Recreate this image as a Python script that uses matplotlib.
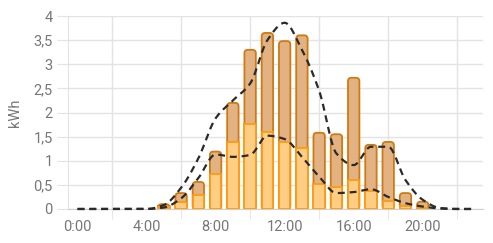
import matplotlib.pyplot as plt
import numpy as np
from matplotlib.patches import FancyBboxPatch

plt.rcParams['font.family'] = ['Roboto', 'DejaVu Sans']
plt.rcParams['lines.scale_dashes'] = False

# hourly values (kWh)
hours = list(range(24))
hour_labels = ['0:00', '4:00', '8:00', '12:00', '16:00', '20:00']
label_hours = [0, 4, 8, 12, 16, 20]

bar_hours = [5, 6, 7, 8, 9, 10, 11, 12, 13, 14, 15, 16, 17, 18, 19, 20]
total = [0.10, 0.33, 0.56, 1.19, 2.20, 3.30, 3.65, 3.48, 3.60, 1.58, 1.55, 2.72, 1.33, 1.39, 0.33, 0.15]
lower = [0.05, 0.15, 0.30, 0.72, 1.38, 1.76, 1.60, 1.38, 1.26, 0.52, 0.45, 0.60, 0.37, 0.16, 0.07, 0.03]

forecast_high = [0, 0, 0, 0, 0, 0.08, 0.44, 1.05, 1.88, 2.25, 2.60, 3.50, 3.86, 3.30, 2.45,
                 1.15, 0.91, 1.29, 1.29, 0.60, 0.19, 0.02, 0, 0]
forecast_low = [0, 0, 0, 0, 0, 0.03, 0.22, 0.64, 1.13, 1.08, 1.12, 1.52, 1.45, 1.08, 0.67,
                0.33, 0.35, 0.41, 0.25, 0.12, 0.05, 0.01, 0, 0]


def monotone(x, y, n=20):
    # Fritsch-Carlson monotone cubic, for drawing a smooth line
    x = np.asarray(x, float)
    y = np.asarray(y, float)
    h = np.diff(x)
    d = np.diff(y) / h
    m = np.zeros_like(y)
    m[0], m[-1] = d[0], d[-1]
    for i in range(1, len(y) - 1):
        if d[i - 1] * d[i] > 0:
            m[i] = 2 / (1 / d[i - 1] + 1 / d[i])
    xs, ys = [], []
    for i in range(len(h)):
        t = np.linspace(0, 1, n, endpoint=False)
        h00 = 2 * t**3 - 3 * t**2 + 1
        h10 = t**3 - 2 * t**2 + t
        h01 = -2 * t**3 + 3 * t**2
        h11 = t**3 - t**2
        xs.append(x[i] + t * h[i])
        ys.append(h00 * y[i] + h10 * h[i] * m[i] + h01 * y[i + 1] + h11 * h[i] * m[i + 1])
    xs.append([x[-1]])
    ys.append([y[-1]])
    return np.concatenate(xs), np.concatenate(ys)


fig = plt.figure(figsize=(4.93, 2.43), dpi=100)
ax = fig.add_axes([0.138, 0.14, 0.842, 0.794])

grid_c = '#e3e3e3'
text_c = '#777777'

width = 0.66
px_x = 0.842 * 493 / 24.05
px_y = 0.794 * 243 / 4
aspect = px_x / px_y
r = 0.2

for h, t, lo in zip(bar_hours, total, lower):
    box = FancyBboxPatch((h - width / 2, 0), width, t,
                         boxstyle=f'round,pad=0,rounding_size={r}',
                         mutation_aspect=aspect,
                         facecolor='#e2b282', edgecolor='#cf7a12', linewidth=1.3, zorder=3)
    ax.add_patch(box)
ax.bar(bar_hours, lower, width=width, color='#ffcd83', edgecolor='#ff9a10',
       linewidth=1.3, zorder=4)

for series in (forecast_high, forecast_low):
    xs, ys = monotone(hours, series)
    ax.plot(xs, ys, color='#2a2a2a', linewidth=1.6, dashes=(5, 3.5), zorder=5,
            clip_on=False)

ax.set_xlim(-0.55, 23.5)
ax.set_ylim(0, 4)
ax.set_yticks(np.arange(0, 4.01, 0.5))
ax.set_yticklabels(['0', '0,5', '1', '1,5', '2', '2,5', '3', '3,5', '4'])
ax.set_xticks(label_hours)
ax.set_xticklabels(hour_labels)
ax.set_xticks([2, 6, 10, 14, 18, 22], minor=True)

ax.grid(axis='y', color=grid_c, linewidth=1, zorder=0)
ax.grid(axis='x', which='minor', color=grid_c, linewidth=1, zorder=0)
ax.tick_params(axis='y', length=8, color=grid_c, labelcolor=text_c, labelsize=10.5, pad=3)
ax.tick_params(axis='x', which='major', length=0, labelcolor=text_c, labelsize=10.5, pad=8)
ax.tick_params(axis='x', which='minor', length=7, color=grid_c)

for side in ('top', 'right'):
    ax.spines[side].set_visible(False)
ax.spines['left'].set_color(grid_c)
ax.spines['bottom'].set_color('#d0d0d0')

ax.set_ylabel('kWh', color=text_c, fontsize=10.5, labelpad=8)

fig.savefig('out.png', dpi=100)
